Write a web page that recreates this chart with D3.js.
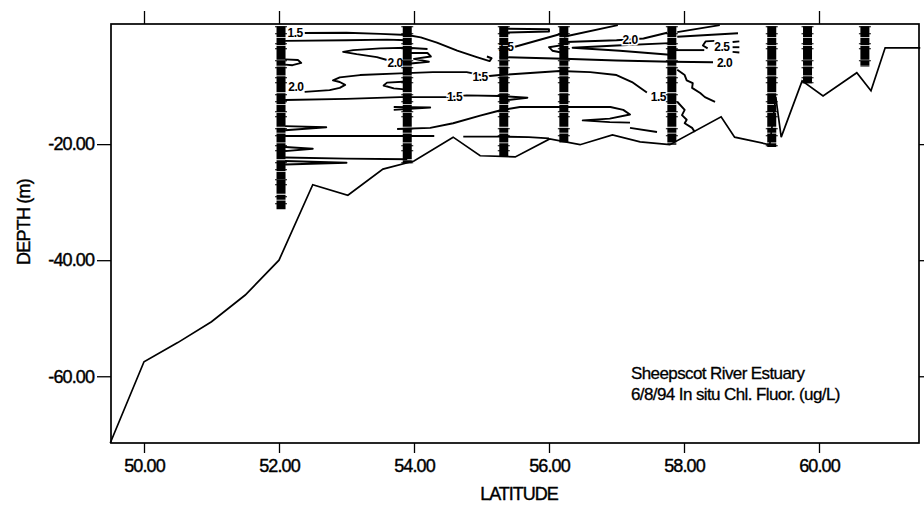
<!DOCTYPE html>
<html>
<head>
<meta charset="utf-8">
<script src="https://cdn.jsdelivr.net/npm/d3@7"></script>
<style>
  html, body { margin: 0; padding: 0; background: #fff; }
  svg text { font-family: "Liberation Sans", Arial, sans-serif; fill: #000; }
</style>
</head>
<body>
<svg id="chart" width="924" height="508"></svg>
<script>
// Axis ticks
const latTicks = [50, 52, 54, 56, 58, 60];
const depthTicks = [-20, -40, -60];

// Bottom profile along the transect: [latitude, depth m]
const bottomProfile = [
  [49.5, -71.5], [50.0, -57.5], [50.5, -54.2], [51.0, -50.6], [51.5, -46.0],
  [52.0, -40.0], [52.5, -27.0], [53.02, -28.8], [53.54, -24.3], [54.0, -22.9],
  [54.58, -18.8], [54.98, -22.0], [55.5, -22.2], [56.01, -19.1], [56.46, -20.1],
  [56.94, -18.4], [57.35, -19.6], [57.79, -20.1], [58.55, -15.3], [58.75, -18.8],
  [59.27, -20.1], [59.36, -11.9], [59.44, -18.8], [59.75, -9.1], [60.06, -11.7],
  [60.56, -7.7], [60.77, -10.8], [60.98, -3.4], [61.5, -3.4]
];

// CTD / fluorometer casts: latitude and deepest sample (m)
const stationLat    = [52.03, 53.9, 55.33, 56.22, 57.82, 59.3, 59.83, 60.68];
const stationBottom = [-31.2, -23.3, -22.2, -19.8, -20.1, -20.5, -9.5, -6.7];

// Chlorophyll fluorescence contour traces: [latitude, depth m]
const c15top   = [[52.38,-0.85],[53.0,-0.8],[53.5,-1.0],[53.9,-1.2],[54.1,-1.6],[54.34,-2.5],[54.64,-3.9],[54.93,-5.0],[55.12,-5.7],[55.15,-5.2],[55.08,-4.9]];
const c15top2  = [[52.09,-2.2],[53.0,-2.1],[53.6,-2.0],[53.9,-2.1]];
const c20wedge = [[54.2,-3.6],[53.9,-3.4],[53.5,-3.5],[53.1,-3.8],[52.95,-4.1],[53.15,-4.5],[53.45,-5.0],[53.6,-5.5]];
const c20loop  = [[53.95,-4.3],[54.2,-4.3],[54.25,-4.9],[54.0,-5.3],[54.22,-5.8],[53.95,-6.1]];
const c20small = [[52.09,-5.4],[52.28,-5.5],[52.33,-6.0],[52.2,-6.4],[52.09,-6.3]];
const c20mid   = [[52.38,-11.0],[52.75,-10.7],[52.9,-10.3],[52.98,-9.8],[52.9,-9.3],[52.8,-9.0],[52.9,-8.5],[53.2,-8.1],[53.79,-7.8],[54.28,-7.6],[54.78,-7.6],[55.08,-8.3],[55.27,-8.1],[56.16,-7.4],[56.61,-7.6],[57.0,-8.1],[57.23,-9.3],[57.35,-10.3],[57.45,-11.1]];
const c20hook  = [[53.9,-9.2],[53.6,-9.4],[53.55,-9.9],[53.7,-10.4],[53.9,-10.6]];
const c15mid   = [[52.09,-12.4],[53.0,-12.2],[53.79,-11.9],[54.5,-11.9],[54.78,-11.6],[55.27,-11.7],[55.68,-12.0],[55.39,-12.4]];
const c15deep  = [[53.75,-17.4],[54.24,-17.2],[54.58,-16.4],[54.98,-15.1],[55.27,-14.2],[55.57,-13.6],[56.22,-13.6],[56.91,-13.6],[57.1,-14.1],[57.2,-14.9],[56.9,-15.6],[56.5,-15.9],[56.9,-16.2],[57.2,-16.3]];
const c15deep2 = [[57.2,-17.2],[57.6,-17.9]];
const c15st2   = [[53.7,-13.6],[54.24,-13.7],[53.7,-14.1]];
const c10a     = [[52.09,-16.9],[52.7,-17.1],[52.09,-17.6]];
const c10b     = [[52.09,-18.6],[53.0,-18.6],[54.3,-18.6]];
const c10c     = [[54.73,-18.7],[55.27,-18.7],[55.7,-18.8],[56.0,-19.0]];
const c10d     = [[52.09,-20.5],[52.5,-20.8],[52.09,-21.2]];
const c10e     = [[52.09,-22.3],[53.0,-22.5],[53.9,-22.6]];
const c10f     = [[52.09,-22.9],[53.0,-23.2],[52.09,-23.5]];
const c15st3   = [[55.27,-0.1],[56.0,-0.2],[56.0,-0.6],[55.27,-0.8]];
const c15rise  = [[55.47,-3.3],[56.21,-0.9]];
const c20rise  = [[56.22,-1.5],[57.02,0.5]];
const c20east  = [[56.25,-2.4],[57.0,-2.1],[57.4,-1.8],[57.75,-0.8]];
const c20east2 = [[57.9,-0.7],[58.53,0.5]];
const c20east3 = [[57.9,-1.5],[58.8,-0.9]];
const c20tip   = [[57.79,-2.6],[57.0,-3.0],[56.35,-3.4],[57.05,-3.9],[57.79,-4.6]];
const c20lp4   = [[56.22,-2.9],[56.0,-3.3],[56.05,-3.9],[56.22,-4.3]];
const c20shelf = [[55.27,-5.0],[56.22,-5.3],[57.0,-5.6],[57.82,-5.8],[58.43,-5.9]];
const c25a     = [[57.84,-3.8],[58.3,-3.8]];
const c25loop  = [[58.45,-2.2],[58.32,-2.3],[58.28,-3.0],[58.35,-3.5]];
const c25d1    = [[58.72,-2.4],[58.82,-2.3]];
const c25d2    = [[58.72,-3.3],[58.82,-3.3]];
const c25d3    = [[58.72,-4.1],[58.82,-4.2]];
const c15wig1  = [[57.9,-7.2],[58.01,-8.1],[58.04,-9.0],[58.13,-9.5],[58.12,-10.3],[58.24,-11.2],[58.31,-11.9],[58.46,-12.7]];
const c15wig2  = [[57.9,-12.7],[58.01,-14.1],[57.97,-15.0],[58.04,-15.8],[58.01,-16.4],[58.12,-17.2],[58.16,-17.9]];

const contourTraces = [
  c15top, c15top2, c20wedge, c20loop, c20small, c20mid, c20hook, c15mid, c15deep,
  c15deep2, c15st2, c10a, c10b, c10c, c10d, c10e, c10f, c15st3, c15rise, c20rise,
  c20east, c20east2, c20east3, c20tip, c20lp4, c20shelf, c25a, c25loop, c25d1,
  c25d2, c25d3, c15wig1, c15wig2
];

// Contour level labels: [text, latitude, depth]
const contourLabels = [
  ["1.5", 52.24, -0.85], ["2.0", 53.72, -6.0], ["2.0", 52.25, -10.2],
  ["1.5", 54.98, -8.4], ["1.5", 54.6, -11.9], ["1.5", 55.36, -3.3],
  ["2.0", 57.2, -2.1], ["2.5", 58.56, -3.2], ["2.0", 58.6, -6.0], ["1.5", 57.62, -11.9]
];

const titleLines = ["Sheepscot River Estuary", "6/8/94  In situ Chl. Fluor. (ug/L)"];

// ---- layout ----
const svg = d3.select("#chart");
const plotLeft = 111, plotRight = 919, plotTop = 24, plotBottom = 443;

const x = d3.scaleLinear().domain([49.5, 61.5]).range([plotLeft - 0.75, plotRight + 1.25]);
const y = d3.scaleLinear().domain([-71.5, 0.7]).range([plotBottom, plotTop]);

const line = d3.line().x(d => x(d[0])).y(d => y(d[1]));

const plot = svg.append("g");

// contour traces
plot.append("g")
  .selectAll("path")
  .data(contourTraces)
  .join("path")
  .attr("d", line)
  .attr("fill", "none")
  .attr("stroke", "#000")
  .attr("stroke-width", 1.9)
  .attr("stroke-linejoin", "round");

// contour labels with a white knock-out behind them
plot.append("g")
  .selectAll("text")
  .data(contourLabels)
  .join("text")
  .attr("x", d => x(d[1]))
  .attr("y", d => y(d[2]))
  .attr("dy", "0.35em")
  .attr("text-anchor", "middle")
  .attr("font-size", 12)
  .attr("font-weight", "bold")
  .attr("letter-spacing", -0.5)
  .attr("stroke", "#fff")
  .attr("stroke-width", 3)
  .attr("paint-order", "stroke")
  .text(d => d[0]);

// bottom profile
plot.append("path")
  .datum(bottomProfile)
  .attr("d", line)
  .attr("fill", "none")
  .attr("stroke", "#000")
  .attr("stroke-width", 1.7)
  .attr("stroke-linejoin", "miter");

// sample columns at each cast: a dense stack of fluorometer readings
const casts = plot.append("g")
  .selectAll("g")
  .data(stationLat.map((lat, i) => [lat, stationBottom[i]]))
  .join("g");

casts.append("line")
  .attr("x1", d => x(d[0]))
  .attr("x2", d => x(d[0]))
  .attr("y1", y(0.3))
  .attr("y2", d => y(d[1]))
  .attr("stroke", "#000")
  .attr("stroke-width", 9)
  .attr("stroke-dasharray", "11 0.8 7 0.7 14 1 5 0.8 9 0.7 16 1");

casts.append("line")
  .attr("x1", d => x(d[0]))
  .attr("x2", d => x(d[0]))
  .attr("y1", y(0.3))
  .attr("y2", d => y(d[1]))
  .attr("stroke", "#000")
  .attr("stroke-width", 12)
  .attr("stroke-dasharray", "1 6 1 9 1 4 1 11");

// frame
svg.append("rect")
  .attr("x", plotLeft).attr("y", plotTop)
  .attr("width", plotRight - plotLeft).attr("height", plotBottom - plotTop)
  .attr("fill", "none").attr("stroke", "#000").attr("stroke-width", 1.7);

const fmt = d => d.toFixed(2);

// bottom axis
const gx = svg.append("g").attr("transform", `translate(0,${plotBottom})`)
  .call(d3.axisBottom(x).tickValues(latTicks).tickSize(10).tickPadding(6).tickFormat(fmt));
// top axis ticks
const gxt = svg.append("g").attr("transform", `translate(0,${plotTop})`)
  .call(d3.axisTop(x).tickValues(latTicks).tickSize(13).tickFormat(""));
// left axis
const gy = svg.append("g").attr("transform", `translate(${plotLeft},0)`)
  .call(d3.axisLeft(y).tickValues(depthTicks).tickSize(14).tickPadding(3).tickFormat(fmt));
// right axis ticks
const gyr = svg.append("g").attr("transform", `translate(${plotRight},0)`)
  .call(d3.axisRight(y).tickValues(depthTicks).tickSize(8).tickFormat(""));

[gx, gxt, gy, gyr].forEach(g => {
  g.select(".domain").remove();
  g.selectAll(".tick line").attr("stroke", "#000").attr("stroke-width", 1.3);
  g.selectAll(".tick text")
    .attr("font-family", "Liberation Sans, Arial, sans-serif")
    .attr("font-size", 18)
    .attr("letter-spacing", -0.9)
    .attr("stroke", "#000")
    .attr("stroke-width", 0.4)
    .attr("fill", "#000");
});

// axis titles
svg.append("text")
  .attr("x", 519).attr("y", 500)
  .attr("text-anchor", "middle")
  .attr("font-size", 18)
  .attr("letter-spacing", -1)
  .attr("stroke", "#000")
  .attr("stroke-width", 0.4)
  .text("LATITUDE");

svg.append("text")
  .attr("transform", "translate(30,222) rotate(-90)")
  .attr("text-anchor", "middle")
  .attr("font-size", 18)
  .attr("letter-spacing", -0.8)
  .attr("stroke", "#000")
  .attr("stroke-width", 0.4)
  .text("DEPTH (m)");

// annotation
svg.append("g")
  .selectAll("text")
  .data(titleLines)
  .join("text")
  .attr("x", 631)
  .attr("y", (d, i) => 379 + i * 21)
  .attr("font-size", 17)
  .attr("letter-spacing", -0.6)
  .attr("stroke", "#000")
  .attr("stroke-width", 0.3)
  .text(d => d);
</script>
</body>
</html>
